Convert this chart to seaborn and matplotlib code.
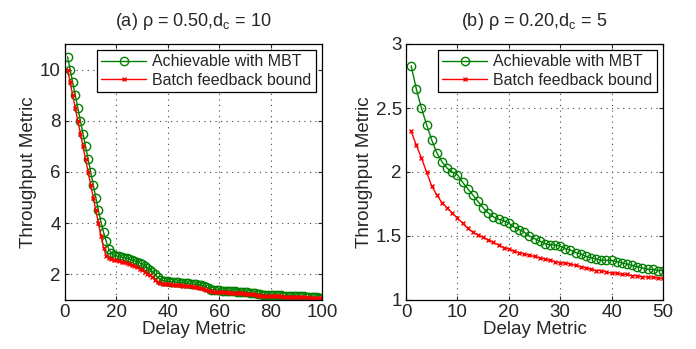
"""
吞吐量-时延曲线对比图
"""
import matplotlib
matplotlib.use('Agg')
import matplotlib.pyplot as plt
import numpy as np
import pandas as pd
import seaborn as sns

# 数据：左图 (a)
delay_a = list(range(1, 101))
mbt_a = [10.5, 10.0, 9.5, 9.0, 8.5, 8.0, 7.5, 7.0, 6.5, 6.0,
         5.5, 5.0, 4.5, 4.05, 3.65, 3.3, 3.0, 2.82, 2.76, 2.72,
         2.70, 2.68, 2.66, 2.63, 2.60, 2.57, 2.53, 2.49, 2.45, 2.40,
         2.33, 2.26, 2.19, 2.10, 2.00, 1.90, 1.80, 1.76, 1.74, 1.73,
         1.72, 1.71, 1.70, 1.69, 1.68, 1.67, 1.66, 1.65, 1.64, 1.62,
         1.61, 1.60, 1.58, 1.55, 1.50, 1.45, 1.41, 1.40, 1.39, 1.38,
         1.37, 1.37, 1.36, 1.36, 1.35, 1.34, 1.33, 1.33, 1.32, 1.31,
         1.30, 1.29, 1.28, 1.26, 1.24, 1.22, 1.21, 1.20, 1.20, 1.19,
         1.19, 1.18, 1.18, 1.18, 1.17, 1.17, 1.17, 1.16, 1.16, 1.15,
         1.15, 1.14, 1.14, 1.13, 1.12, 1.12, 1.11, 1.10, 1.09, 1.08]
bound_a = [10.0, 9.5, 9.0, 8.5, 8.0, 7.5, 7.0, 6.5, 6.0, 5.5,
           5.0, 4.5, 4.0, 3.5, 3.05, 2.72, 2.63, 2.60, 2.57, 2.55,
           2.52, 2.50, 2.47, 2.44, 2.40, 2.36, 2.32, 2.27, 2.22, 2.17,
           2.10, 2.03, 1.96, 1.88, 1.80, 1.72, 1.66, 1.64, 1.63, 1.62,
           1.61, 1.60, 1.59, 1.58, 1.57, 1.56, 1.55, 1.54, 1.53, 1.51,
           1.50, 1.48, 1.46, 1.43, 1.39, 1.36, 1.34, 1.33, 1.32, 1.31,
           1.31, 1.30, 1.30, 1.29, 1.29, 1.28, 1.27, 1.27, 1.26, 1.25,
           1.24, 1.23, 1.22, 1.21, 1.19, 1.17, 1.16, 1.16, 1.15, 1.15,
           1.15, 1.14, 1.14, 1.14, 1.13, 1.13, 1.13, 1.12, 1.12, 1.11,
           1.11, 1.10, 1.10, 1.10, 1.09, 1.09, 1.08, 1.08, 1.07, 1.06]

# 数据：右图 (b)
delay_b = list(range(1, 51))
mbt_b = [2.83, 2.65, 2.50, 2.37, 2.25, 2.15, 2.08, 2.03, 2.00, 1.98,
         1.92, 1.87, 1.82, 1.77, 1.72, 1.68, 1.65, 1.63, 1.62, 1.60,
         1.57, 1.55, 1.53, 1.50, 1.48, 1.46, 1.44, 1.43, 1.43, 1.42,
         1.40, 1.39, 1.37, 1.36, 1.34, 1.33, 1.32, 1.31, 1.31, 1.31,
         1.30, 1.29, 1.28, 1.27, 1.26, 1.25, 1.24, 1.24, 1.23, 1.23]
bound_b = [2.32, 2.21, 2.11, 2.00, 1.89, 1.82, 1.76, 1.72, 1.68, 1.64,
           1.60, 1.56, 1.53, 1.51, 1.49, 1.47, 1.45, 1.43, 1.41, 1.40,
           1.38, 1.37, 1.36, 1.35, 1.34, 1.33, 1.32, 1.31, 1.30, 1.29,
           1.29, 1.28, 1.27, 1.26, 1.25, 1.24, 1.23, 1.23, 1.22, 1.21,
           1.21, 1.20, 1.20, 1.19, 1.19, 1.18, 1.18, 1.18, 1.17, 1.17]

titles = [r'(a) ρ = 0.50,d$_\mathregular{c}$ = 10', r'(b) ρ = 0.20,d$_\mathregular{c}$ = 5']
labels = ['Achievable with MBT', 'Batch feedback bound']

sns.set_style('ticks')
plt.rcParams['font.family'] = ['Liberation Sans', 'DejaVu Sans']
plt.rcParams['mathtext.default'] = 'regular'
plt.rcParams['xtick.direction'] = 'in'
plt.rcParams['ytick.direction'] = 'in'

GREEN = '#008000'
RED = '#ff0000'


def draw_panel(ax, x, mbt, bound, title, xlim, ylim, xticks, yticks, yticklabels):
    """绘制单个子图"""
    df = pd.DataFrame({'delay': x, 'mbt': mbt, 'bound': bound})
    sns.lineplot(data=df, x='delay', y='mbt', ax=ax, color=GREEN, lw=1.0,
                 marker='o', markersize=6, markerfacecolor='none',
                 markeredgecolor=GREEN, markeredgewidth=1.0, label=labels[0])
    sns.lineplot(data=df, x='delay', y='bound', ax=ax, color=RED, lw=1.0,
                 marker='x', markersize=3.5, markeredgecolor=RED,
                 markeredgewidth=1.0, label=labels[1])
    ax.set_xlim(*xlim)
    ax.set_ylim(*ylim)
    ax.set_xticks(xticks)
    ax.set_yticks(yticks)
    ax.set_yticklabels(yticklabels)
    ax.tick_params(labelsize=13.5, length=3, width=0.8, top=True, right=True, pad=3)
    ax.grid(True, linestyle=(0, (1, 4)), color='#444444', linewidth=0.8)
    for sp in ax.spines.values():
        sp.set_visible(True)
        sp.set_linewidth(0.9)
        sp.set_color('black')
    ax.set_xlabel('Delay Metric', fontsize=13.5, labelpad=0)
    ax.set_ylabel('Throughput Metric', fontsize=13.5, labelpad=2)
    ax.set_title(title, fontsize=13, pad=13)
    leg = ax.legend(loc='upper right', fontsize=11.5, frameon=True, fancybox=False,
                    borderaxespad=0.4, handlelength=2.8, borderpad=0.25,
                    labelspacing=0.2, handletextpad=0.4)
    leg.get_frame().set_edgecolor('black')
    leg.get_frame().set_linewidth(0.9)
    leg.get_frame().set_alpha(1)


fig = plt.figure(figsize=(6.96, 3.49), dpi=100)
ax1 = fig.add_axes([65 / 696, 1 - 300 / 349, 257 / 696, 256 / 349])
ax2 = fig.add_axes([406 / 696, 1 - 300 / 349, 257 / 696, 256 / 349])

draw_panel(ax1, delay_a, mbt_a, bound_a, titles[0], (0, 100), (1, 11),
           [0, 20, 40, 60, 80, 100], [2, 4, 6, 8, 10], ['2', '4', '6', '8', '10'])
draw_panel(ax2, delay_b, mbt_b, bound_b, titles[1], (0, 50), (1, 3),
           [0, 10, 20, 30, 40, 50], [1, 1.5, 2, 2.5, 3], ['1', '1.5', '2', '2.5', '3'])

fig.savefig('out.png', dpi=100)
